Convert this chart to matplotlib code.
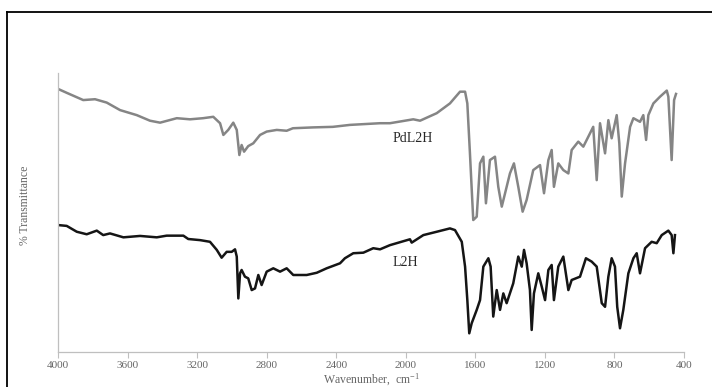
import matplotlib
matplotlib.use("Agg")
import matplotlib.pyplot as plt
from matplotlib.lines import Line2D

# PdL2H spectrum (wavenumber cm-1, % transmittance, arbitrary offset)
pd_wn = [4000, 3950, 3855, 3787, 3720, 3643, 3547, 3471, 3413, 3317, 3241, 3166, 3107,
         3068, 3049, 3021, 2992, 2972, 2957, 2944, 2930, 2906, 2877, 2838, 2800, 2742,
         2685, 2649, 2534, 2419, 2321, 2148, 2091, 1957, 1918, 1822, 1746, 1688, 1659,
         1646, 1631, 1612, 1592, 1573, 1554, 1539, 1516, 1487, 1468, 1448, 1429, 1401,
         1378, 1353, 1328, 1305, 1267, 1228, 1205, 1180, 1161, 1148, 1123, 1094, 1065,
         1046, 1008, 979, 950, 922, 902, 883, 854, 835, 816, 787, 772, 758, 739, 710,
         691, 653, 634, 618, 605, 576, 538, 499, 490, 471, 457, 446]
pd_t = [94.3, 92.9, 90.3, 90.6, 89.4, 86.7, 84.9, 82.9, 82.2, 83.8, 83.4, 83.8, 84.3,
        82.0, 77.8, 79.6, 82.2, 79.6, 70.6, 74.2, 71.8, 73.8, 74.8, 77.8, 79.0, 79.6,
        79.3, 80.2, 80.5, 80.7, 81.4, 82.0, 82.0, 83.4, 82.9, 85.6, 89.1, 93.3, 93.3,
        89.1, 71.2, 47.3, 48.5, 67.6, 70.0, 53.3, 68.8, 70.0, 59.2, 52.1, 56.9, 64.0,
        67.6, 59.2, 50.3, 54.5, 65.2, 67.0, 56.9, 68.8, 72.4, 59.2, 67.6, 65.2, 64.0,
        72.4, 75.4, 73.6, 77.2, 80.7, 61.6, 82.0, 71.2, 83.1, 76.6, 84.9, 74.8, 55.7,
        67.6, 80.7, 83.8, 82.5, 84.9, 76.0, 84.9, 89.1, 91.5, 93.7, 91.5, 68.8, 90.3, 92.5]

# L2H spectrum
l2_wn = [4000, 3950, 3892, 3835, 3777, 3740, 3701, 3624, 3528, 3432, 3375, 3279, 3251,
         3183, 3126, 3087, 3059, 3030, 3001, 2982, 2972, 2963, 2953, 2944, 2925, 2906,
         2886, 2867, 2848, 2829, 2800, 2762, 2723, 2685, 2647, 2570, 2512, 2455, 2378,
         2350, 2302, 2244, 2187, 2148, 2091, 1976, 1966, 1899, 1822, 1746, 1717, 1678,
         1659, 1646, 1635, 1621, 1592, 1573, 1554, 1525, 1512, 1497, 1477, 1458, 1439,
         1420, 1382, 1353, 1333, 1320, 1305, 1286, 1276, 1263, 1238, 1218, 1199, 1180,
         1161, 1148, 1123, 1094, 1065, 1046, 998, 964, 931, 902, 873, 854, 835, 816,
         797, 784, 768, 749, 720, 691, 672, 653, 624, 586, 557, 528, 490, 471, 461, 452]
l2_t = [45.5, 45.2, 43.1, 42.2, 43.5, 41.9, 42.5, 41.1, 41.6, 41.1, 41.7, 41.7, 40.5,
        40.1, 39.5, 36.6, 33.8, 35.9, 35.9, 36.8, 34.2, 19.2, 28.2, 29.4, 27.0, 26.4,
        22.2, 22.8, 27.6, 24.0, 28.8, 30.0, 28.8, 30.0, 27.6, 27.6, 28.4, 30.0, 31.8,
        33.6, 35.4, 35.6, 37.2, 36.8, 38.3, 40.4, 39.2, 41.9, 43.1, 44.3, 43.7, 39.5,
        30.6, 18.6, 6.7, 10.3, 15.1, 18.6, 30.6, 33.6, 30.6, 12.7, 22.2, 15.1, 21.0,
        17.5, 24.6, 34.2, 30.6, 36.6, 31.8, 22.2, 7.9, 21.0, 28.2, 23.4, 18.6, 29.4,
        31.2, 18.6, 30.6, 34.2, 22.2, 25.8, 27.0, 33.6, 32.4, 30.6, 17.5, 16.2, 27.0, 33.6,
        30.6, 16.2, 8.5, 15.1, 28.2, 33.6, 35.4, 28.2, 37.2, 39.5, 39.0, 41.9, 43.5, 41.9, 35.4, 41.9]

series_labels = ["PdL2H", "L2H"]
x_ticks = [4000, 3600, 3200, 2800, 2400, 2000, 1600, 1200, 800, 400]

serif = ["Liberation Serif", "DejaVu Serif"]
plt.rcParams["mathtext.fontset"] = "custom"
plt.rcParams["mathtext.rm"] = "Liberation Serif"
plt.rcParams["mathtext.it"] = "Liberation Serif:italic"

fig = plt.figure(figsize=(7.12, 3.87), dpi=100)
ax = fig.add_axes([58/712, 1-352/387, (684-58)/712, (352-73)/387])

ax.plot(pd_wn, pd_t, color="#858585", lw=1.8, solid_joinstyle="round")
ax.plot(l2_wn, l2_t, color="#151515", lw=1.8, solid_joinstyle="round")

ax.set_xlim(4000, 400)
ax.set_ylim(0, 100)
ax.set_xticks(x_ticks)
ax.set_xticklabels([str(t) for t in x_ticks], family=serif, fontsize=8, color="#666666")
ax.set_yticks([])
ax.tick_params(axis="x", direction="out", length=4, width=0.8, color="#bfbfbf", pad=2.5)
for s in ["top", "right"]:
    ax.spines[s].set_visible(False)
for s in ["left", "bottom"]:
    ax.spines[s].set_color("#bfbfbf")
    ax.spines[s].set_linewidth(0.9)

fig.text(371/712, 1-380/387, "Wavenumber,  cm$^{\\mathrm{-1}}$", ha="center", va="center",
         family=serif, fontsize=8.5, color="#666666")
fig.text(25/712, 1-205/387, "% Transmittance", rotation=90, ha="center", va="center",
         family=serif, fontsize=8.5, color="#666666")

ax.text(2079, 76.7, series_labels[0], family=serif, fontsize=10, color="#262626",
        ha="left", va="center")
ax.text(2079, 31.9, series_labels[1], family=serif, fontsize=10, color="#262626",
        ha="left", va="center")

# outer frame (left and top edges visible)
fig.add_artist(Line2D([7/712, 7/712], [0, 1-12/387], transform=fig.transFigure,
                      color="black", lw=1.3))
fig.add_artist(Line2D([7/712, 1.0], [1-12/387, 1-12/387], transform=fig.transFigure,
                      color="black", lw=1.3))

fig.savefig("out.png", dpi=100)
